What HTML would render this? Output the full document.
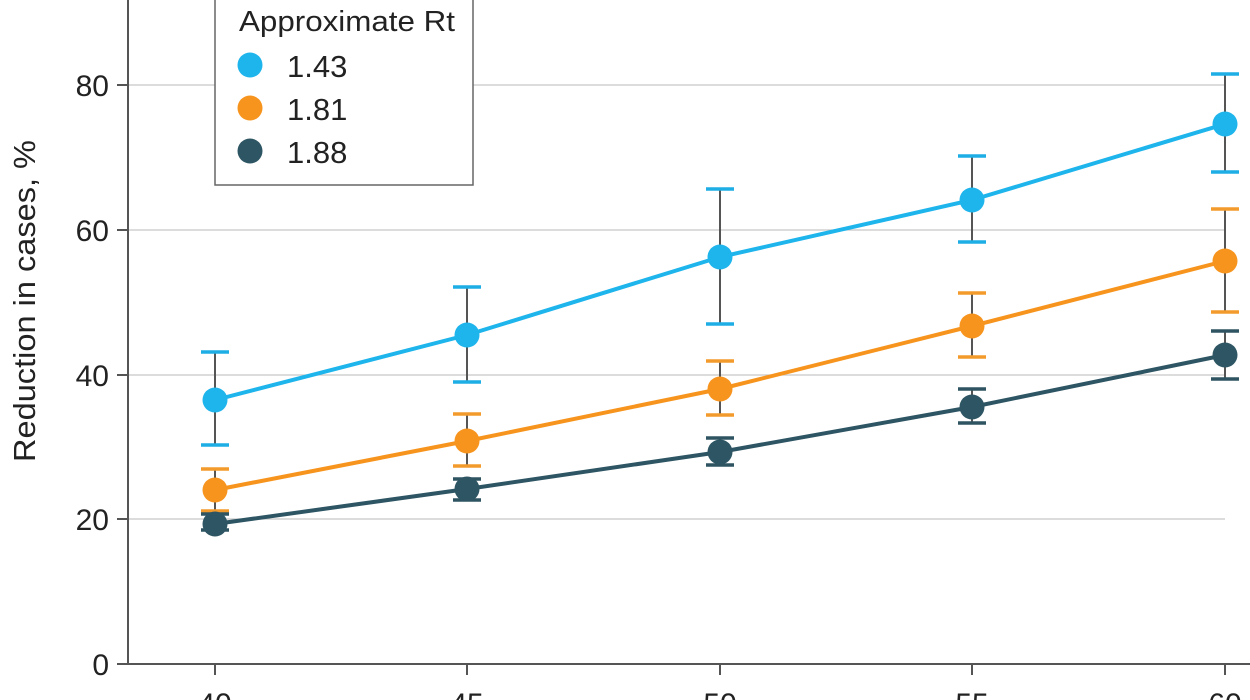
<!DOCTYPE html>
<html><head><meta charset="utf-8"><style>
html,body{margin:0;padding:0;background:#fff;}
svg{display:block;font-family:"Liberation Sans",sans-serif;}
</style></head><body>
<svg width="1250" height="700" viewBox="0 0 1250 700">
<g stroke="#c8c8c8" stroke-width="1.2">
<line x1="128" y1="85" x2="1225" y2="85"/>
<line x1="128" y1="230" x2="1225" y2="230"/>
<line x1="128" y1="375" x2="1225" y2="375"/>
<line x1="128" y1="519" x2="1225" y2="519"/>
</g>
<g stroke="#555" stroke-width="2">
<line x1="128" y1="0" x2="128" y2="664"/>
<line x1="117" y1="664" x2="1250" y2="664"/>
<line x1="117" y1="85" x2="128" y2="85"/>
<line x1="117" y1="230" x2="128" y2="230"/>
<line x1="117" y1="375" x2="128" y2="375"/>
<line x1="117" y1="519" x2="128" y2="519"/>
<line x1="215" y1="664" x2="215" y2="675"/>
<line x1="467" y1="664" x2="467" y2="675"/>
<line x1="720" y1="664" x2="720" y2="675"/>
<line x1="972" y1="664" x2="972" y2="675"/>
<line x1="1225" y1="664" x2="1225" y2="675"/>
</g>
<g font-size="30" fill="#222" text-anchor="end">
<text x="109" y="96">80</text>
<text x="109" y="241">60</text>
<text x="109" y="386">40</text>
<text x="109" y="530">20</text>
<text x="109" y="675">0</text>
</g>
<g font-size="30" fill="#222" text-anchor="middle">
<text x="215" y="714">40</text><text x="467" y="714">45</text><text x="720" y="714">50</text><text x="972" y="714">55</text><text x="1225" y="714">60</text>
</g>
<text transform="translate(35,301) rotate(-90)" font-size="31" fill="#222" text-anchor="middle" textLength="322" lengthAdjust="spacingAndGlyphs">Reduction in cases, %</text>

<g stroke="#555" stroke-width="2">
<line x1="215" y1="352" x2="215" y2="445"/><line x1="467" y1="287" x2="467" y2="382"/><line x1="720" y1="189" x2="720" y2="324"/><line x1="972" y1="156" x2="972" y2="242"/><line x1="1225" y1="74" x2="1225" y2="172"/>
<line x1="215" y1="469" x2="215" y2="511"/><line x1="467" y1="414" x2="467" y2="466"/><line x1="720" y1="361" x2="720" y2="415"/><line x1="972" y1="293" x2="972" y2="357"/><line x1="1225" y1="209" x2="1225" y2="312"/>
<line x1="215" y1="514" x2="215" y2="530"/><line x1="467" y1="479" x2="467" y2="500"/><line x1="720" y1="438" x2="720" y2="465"/><line x1="972" y1="389" x2="972" y2="423"/><line x1="1225" y1="331" x2="1225" y2="379"/>
</g>
<g stroke-width="3.5">
<g stroke="#1eaee6">
<line x1="201" y1="352" x2="229" y2="352"/><line x1="201" y1="445" x2="229" y2="445"/>
<line x1="453" y1="287" x2="481" y2="287"/><line x1="453" y1="382" x2="481" y2="382"/>
<line x1="706" y1="189" x2="734" y2="189"/><line x1="706" y1="324" x2="734" y2="324"/>
<line x1="958" y1="156" x2="986" y2="156"/><line x1="958" y1="242" x2="986" y2="242"/>
<line x1="1211" y1="74" x2="1239" y2="74"/><line x1="1211" y1="172" x2="1239" y2="172"/>
</g>
<g stroke="#f39a2c">
<line x1="201" y1="469" x2="229" y2="469"/><line x1="201" y1="511" x2="229" y2="511"/>
<line x1="453" y1="414" x2="481" y2="414"/><line x1="453" y1="466" x2="481" y2="466"/>
<line x1="706" y1="361" x2="734" y2="361"/><line x1="706" y1="415" x2="734" y2="415"/>
<line x1="958" y1="293" x2="986" y2="293"/><line x1="958" y1="357" x2="986" y2="357"/>
<line x1="1211" y1="209" x2="1239" y2="209"/><line x1="1211" y1="312" x2="1239" y2="312"/>
</g>
<g stroke="#2f5461">
<line x1="201" y1="514" x2="229" y2="514"/><line x1="201" y1="530" x2="229" y2="530"/>
<line x1="453" y1="479" x2="481" y2="479"/><line x1="453" y1="500" x2="481" y2="500"/>
<line x1="706" y1="438" x2="734" y2="438"/><line x1="706" y1="465" x2="734" y2="465"/>
<line x1="958" y1="389" x2="986" y2="389"/><line x1="958" y1="423" x2="986" y2="423"/>
<line x1="1211" y1="331" x2="1239" y2="331"/><line x1="1211" y1="379" x2="1239" y2="379"/>
</g>
</g>
<polyline fill="none" stroke="#1eb4ec" stroke-width="4" points="215,400 467,335 720,257 972,200 1225,124"/>
<polyline fill="none" stroke="#f7941d" stroke-width="4" points="215,490 467,441 720,389 972,326 1225,261"/>
<polyline fill="none" stroke="#2d5563" stroke-width="4" points="215,524 467,489 720,452 972,407 1225,355"/>
<g fill="#1eb4ec"><circle cx="215" cy="400" r="12.5"/><circle cx="467" cy="335" r="12.5"/><circle cx="720" cy="257" r="12.5"/><circle cx="972" cy="200" r="12.5"/><circle cx="1225" cy="124" r="12.5"/></g>
<g fill="#f7941d"><circle cx="215" cy="490" r="12.5"/><circle cx="467" cy="441" r="12.5"/><circle cx="720" cy="389" r="12.5"/><circle cx="972" cy="326" r="12.5"/><circle cx="1225" cy="261" r="12.5"/></g>
<g fill="#2d5563"><circle cx="215" cy="524" r="12.5"/><circle cx="467" cy="489" r="12.5"/><circle cx="720" cy="452" r="12.5"/><circle cx="972" cy="407" r="12.5"/><circle cx="1225" cy="355" r="12.5"/></g>

<rect x="215" y="-5" width="258" height="190" fill="#fff" stroke="#666" stroke-width="1.5"/>
<text x="239" y="31" font-size="29" fill="#222" textLength="216" lengthAdjust="spacingAndGlyphs">Approximate Rt</text>
<circle cx="250" cy="65" r="12.5" fill="#1eb4ec"/>
<circle cx="250" cy="108" r="12.5" fill="#f7941d"/>
<circle cx="250" cy="151" r="12.5" fill="#2d5563"/>
<g font-size="31" fill="#222"><text x="287" y="77">1.43</text><text x="287" y="120">1.81</text><text x="287" y="163">1.88</text></g>
</svg>
</body></html>
